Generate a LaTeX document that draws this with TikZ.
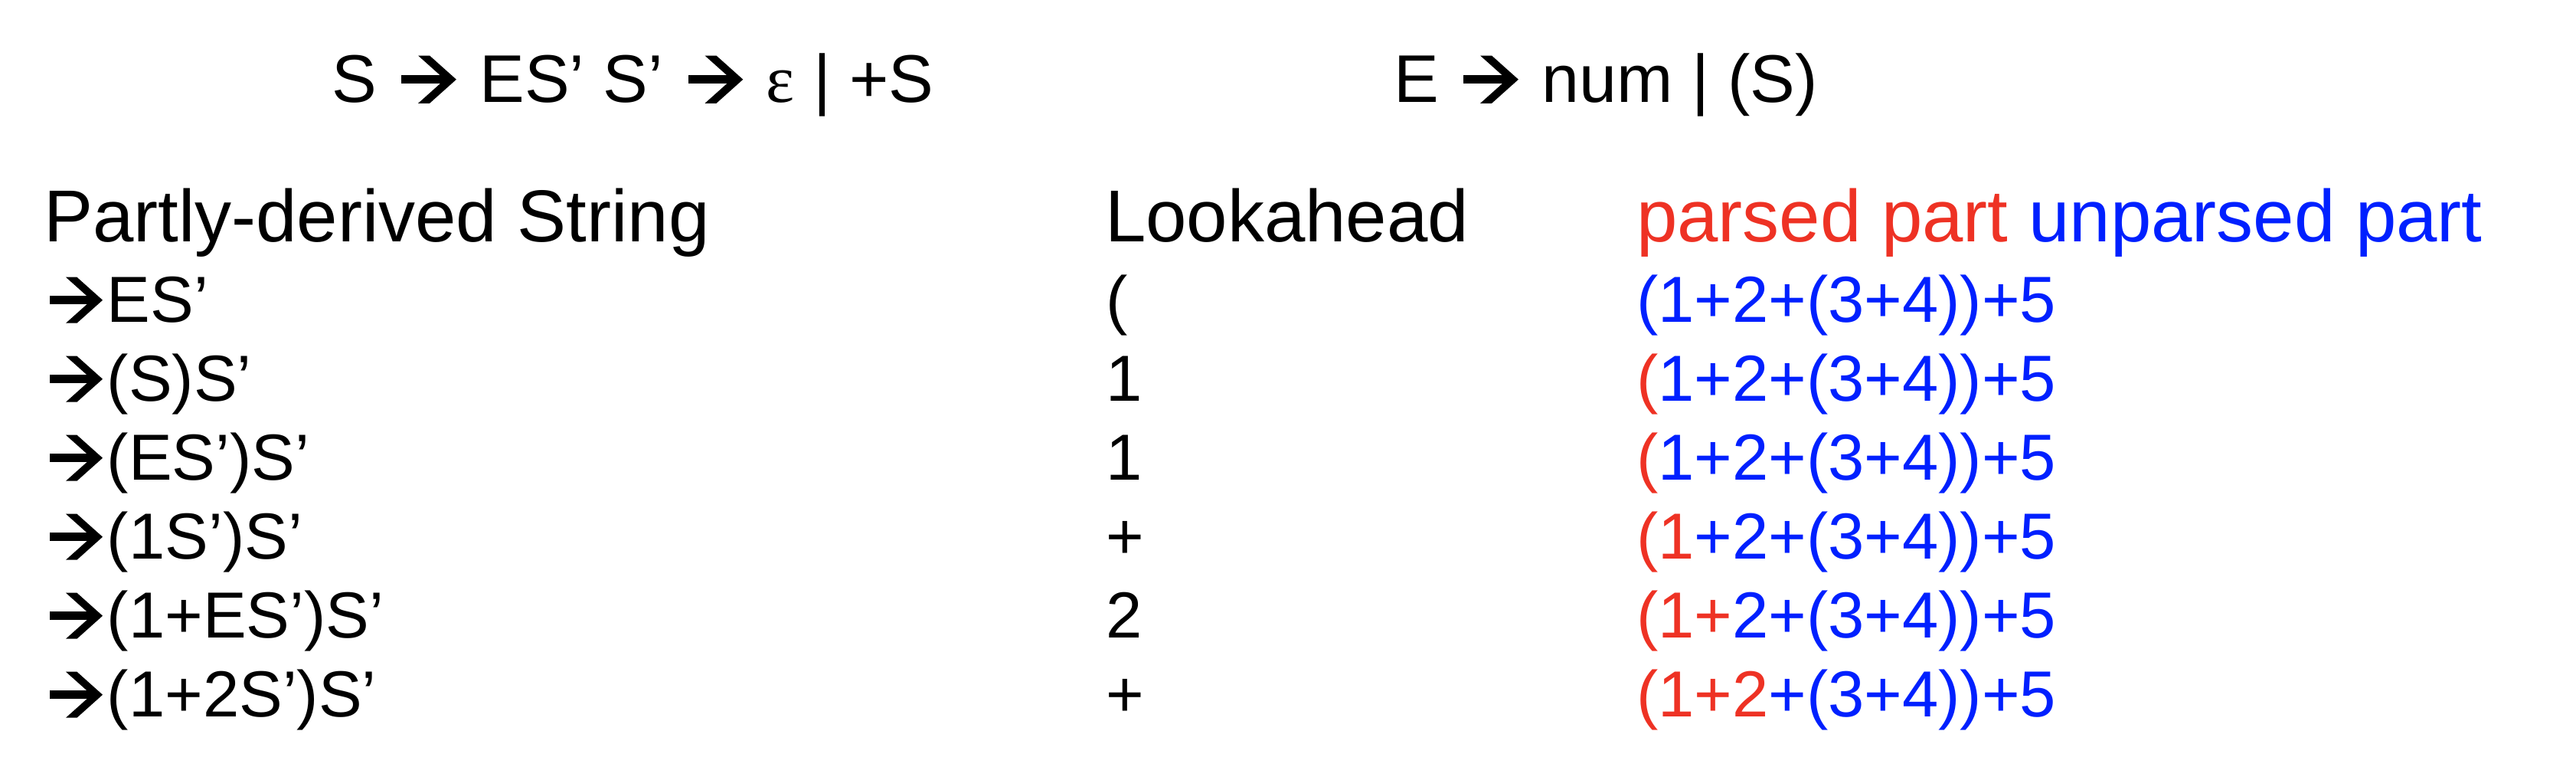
\documentclass[tikz,border=0pt]{standalone}
\usepackage{fontspec}
\setmainfont{Liberation Sans}
\newfontfamily\serifgr{Liberation Serif}
\definecolor{pred}{RGB}{238,50,36}
\definecolor{pblue}{RGB}{0,32,255}
% arrow in the style of the reference (shaft + open chevron head), sized in em
\newcommand\arr{\tikz[baseline=0pt,x=1em,y=1em]{%
  \useasboundingbox (0,0) rectangle (0.976,0.686);
  \fill (0.094,0.27) rectangle (0.80,0.40);
  \fill (0.341,0.686) -- (0.511,0.686) -- (0.906,0.333) -- (0.511,-0.02)
        -- (0.341,-0.02) -- (0.736,0.333) -- cycle;}}
\tikzset{
  txt/.style={anchor=base west, inner sep=0pt, outer sep=0pt},
  hdr/.style={txt, font=\fontsize{24}{28}\selectfont},
  rowtxt/.style={txt, font=\fontsize{21.25}{25}\selectfont},
  toptxt/.style={txt, font=\fontsize{22}{26}\selectfont},
}
\begin{document}
\begin{tikzpicture}[x=0.25pt,y=-0.25pt]
\useasboundingbox (0,0) rectangle (3364,1000);
% grammar
\node[toptxt] (g1) at (433,133) {S \arr{} ES’ S’ \arr{} {\serifgr ε} | +S};
\node[toptxt] (g2) at (1820,133) {E \arr{} num | (S)};
% headers
\node[hdr] (h1) at (57,315) {Partly-derived String};
\node[hdr] (h2) at (1443,315) {Lookahead};
\node[hdr] (h3) at (2137,315) {\textcolor{pred}{parsed part} \textcolor{pblue}{unparsed part}};
% column 1
\node[rowtxt] (a1) at (57,420) {\arr{}ES’};
\node[rowtxt] (a2) at (57,523) {\arr{}(S)S’};
\node[rowtxt] (a3) at (57,626) {\arr{}(ES’)S’};
\node[rowtxt] (a4) at (57,729) {\arr{}(1S’)S’};
\node[rowtxt] (a5) at (57,832) {\arr{}(1+ES’)S’};
\node[rowtxt] (a6) at (57,935) {\arr{}(1+2S’)S’};
% column 2
\node[rowtxt] (b1) at (1444,420) {(};
\node[rowtxt] (b2) at (1444,523) {1};
\node[rowtxt] (b3) at (1444,626) {1};
\node[rowtxt] (b4) at (1444,729) {+};
\node[rowtxt] (b5) at (1444,832) {2};
\node[rowtxt] (b6) at (1444,935) {+};
% column 3
\node[rowtxt] (c1) at (2137,420) {\textcolor{pblue}{(1+2+(3+4))+5}};
\node[rowtxt] (c2) at (2137,523) {\textcolor{pred}{(}\textcolor{pblue}{1+2+(3+4))+5}};
\node[rowtxt] (c3) at (2137,626) {\textcolor{pred}{(}\textcolor{pblue}{1+2+(3+4))+5}};
\node[rowtxt] (c4) at (2137,729) {\textcolor{pred}{(1}\textcolor{pblue}{+2+(3+4))+5}};
\node[rowtxt] (c5) at (2137,832) {\textcolor{pred}{(1+}\textcolor{pblue}{2+(3+4))+5}};
\node[rowtxt] (c6) at (2137,935) {\textcolor{pred}{(1+2}\textcolor{pblue}{+(3+4))+5}};
\end{tikzpicture}
\end{document}
